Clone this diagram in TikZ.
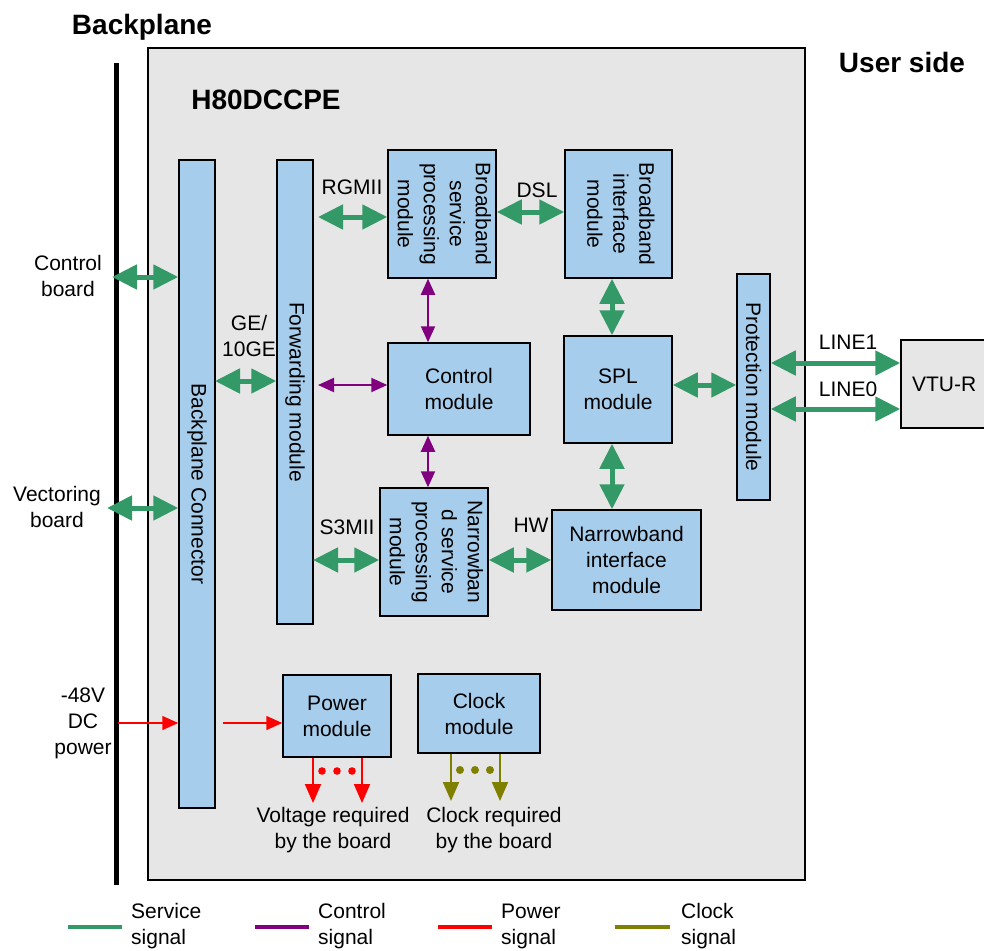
\documentclass[tikz,border=0pt]{standalone}
\usepackage{fontspec}
\setmainfont{Liberation Sans}
\usetikzlibrary{arrows.meta}
\definecolor{boxblue}{HTML}{A6CDEC}
\definecolor{bggray}{HTML}{E6E6E6}
\definecolor{svcgreen}{HTML}{339966}
\definecolor{ctlpurple}{HTML}{800080}
\definecolor{pwrred}{HTML}{FF0000}
\definecolor{clkolive}{HTML}{808000}
\begin{document}
\begin{tikzpicture}[x=1pt,y=-1pt,
  font=\fontsize{21}{26}\selectfont,
  box/.style={draw=black, line width=1.5pt, fill=boxblue, inner sep=0pt, align=center},
  title/.style={font=\fontsize{28}{32}\selectfont\bfseries},
  lbl/.style={inner sep=0pt, align=center},
  svc/.style={draw=svcgreen, line width=5pt, {Triangle[length=25pt,width=24pt]}-{Triangle[length=25pt,width=24pt]}},
  ctl/.style={draw=ctlpurple, line width=2pt, {Triangle[length=16pt,width=14pt]}-{Triangle[length=16pt,width=14pt]}},
  pwr/.style={draw=pwrred, line width=1.5pt, -{Triangle[length=16pt,width=14pt]}},
  pwo/.style={draw=pwrred, line width=2pt, -{Triangle[length=19pt,width=16pt]}},
  clk/.style={draw=clkolive, line width=2pt, -{Triangle[length=19pt,width=16pt]}},
  legline/.style={line width=4pt}
]
\useasboundingbox (0,0) rectangle (984,950);
% background board
\node[draw=black, line width=1.2pt, fill=bggray, minimum width=657pt, minimum height=832pt, inner sep=0pt] (board) at (476.5,464) {};
% backplane line
\coordinate (bpt) at (116,63);
\coordinate (bpb) at (116,885);
\draw[line width=5pt] (bpt) -- (bpb);
% titles
\node[title, lbl] (tbp) at (142,27) {Backplane};
\node[title, lbl] (tus) at (902,62) {User side};
\node[title, lbl] (th8) at (266,100) {H80DCCPE};
% boxes
\node[box, minimum width=36pt, minimum height=648pt] (bc) at (197,484) {\rotatebox{-90}{Backplane Connector}};
\node[box, minimum width=36pt, minimum height=464pt] (fwd) at (295,392) {\rotatebox{-90}{Forwarding module}};
\node[box, minimum width=108pt, minimum height=128pt] (bsp) at (442,214) {\rotatebox{-90}{\begin{tabular}{@{}c@{}}Broadband\\service\\processing\\module\end{tabular}}};
\node[box, minimum width=107pt, minimum height=128pt] (bif) at (618.5,214) {\rotatebox{-90}{\begin{tabular}{@{}c@{}}Broadband\\interface\\module\end{tabular}}};
\node[box, minimum width=142pt, minimum height=92pt] (ctm) at (459,389) {Control\\module};
\node[box, minimum width=108pt, minimum height=107pt] (spl) at (618,389.5) {SPL\\module};
\node[box, minimum width=33pt, minimum height=226pt] (prot) at (753.5,387) {\rotatebox{-90}{Protection module}};
\node[box, minimum width=108pt, minimum height=128pt] (nsp) at (434,552) {\rotatebox{-90}{\begin{tabular}{@{}c@{}}Narrowban\\d service\\processing\\module\end{tabular}}};
\node[box, minimum width=149pt, minimum height=100pt] (nif) at (626.5,560) {Narrowband\\interface\\module};
\node[box, minimum width=108pt, minimum height=82pt] (pwm) at (337,716) {Power\\module};
\node[box, minimum width=122pt, minimum height=79pt] (clm) at (479,713.5) {Clock\\module};
\node[box, fill=bggray, minimum width=96pt, minimum height=88pt, text width=80pt, align=left] (vtu) at (949,384) {\hspace*{3pt}VTU-R};
% left labels
\node[lbl] (lcb) at (68,276) {Control\\board};
\node[lbl] (lvb) at (57,507) {Vectoring\\board};
\node[lbl] (lpw) at (83,723) {-48V\\DC\\power};
% connectors: backplane
\coordinate (cbs) at (112,277);
\draw[svc] (cbs) -- (cbs -| bc.west);
\coordinate (vbs) at (107,508);
\draw[svc] (vbs) -- (vbs -| bc.west);
\coordinate (pws) at (118,723);
\draw[pwr] (pws) -- (pws -| bc.west);
\coordinate (pw2) at (223,723);
\draw[pwr] (pw2) -- (pw2 -| pwm.west);
% GE
\node[lbl] (lge) at (249,336) {GE/\\10GE};
\coordinate (ge) at (215,381);
\draw[svc] (ge) -- (ge -| fwd.west);
% RGMII
\node[lbl] (lrg) at (352,187) {RGMII};
\coordinate (rg) at (318,217);
\draw[svc] (rg) -- (rg -| bsp.west);
% DSL
\node[lbl] (lds) at (537,190) {DSL};
\coordinate (ds) at (496,212);
\draw[svc] (ds -| bsp.east) -- (ds -| bif.west);
% control purple
\coordinate (cv) at (428,0);
\draw[ctl] (cv |- bsp.south) -- (cv |- ctm.north);
\draw[ctl] (cv |- ctm.south) -- (cv |- nsp.north);
\coordinate (ch) at (318,385);
\draw[ctl] (ch) -- (ch -| ctm.west);
% SPL
\coordinate (sv) at (612,0);
\draw[svc] (sv |- bif.south) -- (sv |- spl.north);
\draw[svc] (sv |- spl.south) -- (sv |- nif.north);
\coordinate (sp) at (672,385);
\draw[svc] (sp -| spl.east) -- (sp -| prot.west);
% LINE
\node[lbl] (ll1) at (848,342) {LINE1};
\node[lbl] (ll0) at (848,389) {LINE0};
\coordinate (l1) at (770,363);
\draw[svc] (l1 -| prot.east) -- (l1 -| vtu.west);
\coordinate (l0) at (770,409);
\draw[svc] (l0 -| prot.east) -- (l0 -| vtu.west);
% S3MII / HW
\node[lbl] (ls3) at (347,527) {S3MII};
\coordinate (s3) at (313,560);
\draw[svc] (s3) -- (s3 -| nsp.west);
\node[lbl] (lhw) at (531,525) {HW};
\coordinate (hw) at (488,560);
\draw[svc] (hw -| nsp.east) -- (hw -| nif.west);
% power outputs
\coordinate (po1) at (313,803);
\coordinate (po2) at (362,803);
\draw[pwo] (po1 |- pwm.south) -- (po1);
\draw[pwo] (po2 |- pwm.south) -- (po2);
\fill[pwrred] (322,771) circle (3.8pt) (337,771) circle (3.8pt) (352,771) circle (3.8pt);
\node[lbl] (lvr) at (333,830) {Voltage required\\by the board};
% clock outputs
\coordinate (co1) at (451,801);
\coordinate (co2) at (500,801);
\draw[clk] (co1 |- clm.south) -- (co1);
\draw[clk] (co2 |- clm.south) -- (co2);
\fill[clkolive] (460,770) circle (4pt) (475,770) circle (4pt) (490,770) circle (4pt);
\node[lbl] (lcr) at (494,830) {Clock required\\by the board};
% legend
\coordinate (g1) at (68,927); \coordinate (g2) at (122,927);
\draw[legline, svcgreen] (g1) -- (g2);
\node[lbl, anchor=west, align=left] (lsv) at (131,926) {Service\\signal};
\coordinate (p1) at (255,927); \coordinate (p2) at (309,927);
\draw[legline, ctlpurple] (p1) -- (p2);
\node[lbl, anchor=west, align=left] (lct) at (318,926) {Control\\signal};
\coordinate (r1) at (438,927); \coordinate (r2) at (492,927);
\draw[legline, pwrred] (r1) -- (r2);
\node[lbl, anchor=west, align=left] (lpo) at (501,926) {Power\\signal};
\coordinate (o1) at (615,927); \coordinate (o2) at (670,927);
\draw[legline, clkolive] (o1) -- (o2);
\node[lbl, anchor=west, align=left] (lck) at (681,926) {Clock\\signal};
\end{tikzpicture}
\end{document}
